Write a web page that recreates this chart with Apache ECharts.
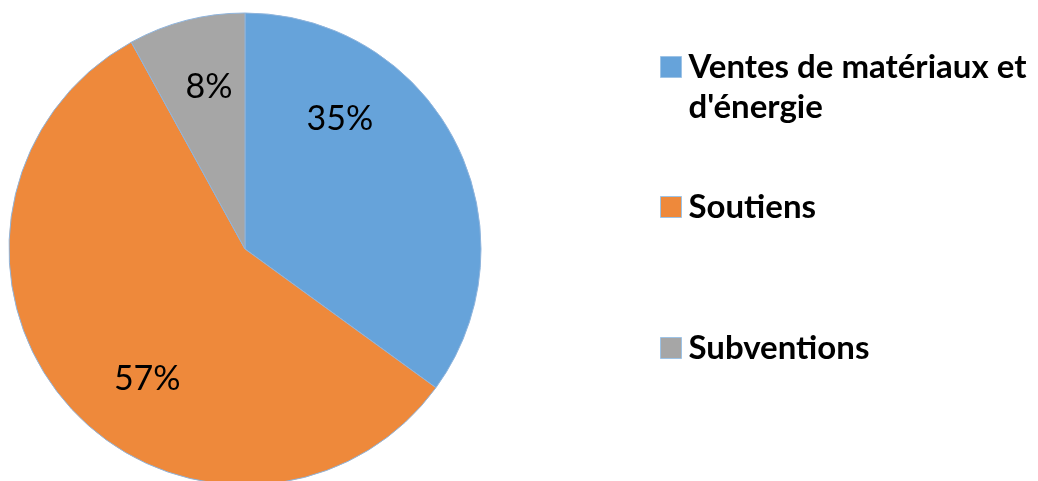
<!DOCTYPE html>
<html>
<head>
<meta charset="utf-8">
<script src="https://cdn.jsdelivr.net/npm/echarts@6/dist/echarts.min.js"></script>
<style>
html,body{margin:0;padding:0;background:#fff;}
#c{width:1038px;height:481px;}
</style>
</head>
<body>
<div id="c"></div>
<script>
var categories = ["Ventes de matériaux et d'énergie", "Soutiens", "Subventions"];
var legendLabels = ["\nVentes de matériaux et\nd'énergie", "Soutiens", "Subventions"];
var values = [35, 57, 8];
var colors = ['#66A3DA', '#EE893B', '#A6A6A6'];
var labelOffsets = [[-13, -75], [-7, 50], [-6, -45]];
var legendTops = [7, 187, 328];

var chart = echarts.init(document.getElementById('c'));
var legendFont = { fontFamily: 'Lato', fontWeight: 'bold', fontSize: 33, color: '#000' };

var legends = categories.map(function (name, i) {
  return {
    left: 660,
    top: legendTops[i],
    itemWidth: 21,
    itemHeight: 21,
    itemGap: 0,
    icon: 'rect',
    selectedMode: false,
    padding: 0,
    formatter: function () { return legendLabels[i]; },
    textStyle: Object.assign({ lineHeight: 40, padding: [0, 0, 0, 2] }, legendFont),
    itemStyle: { borderColor: '#9dc3e6', borderWidth: 1 },
    data: [name]
  };
});

chart.setOption({
  animation: false,
  color: colors,
  legend: legends,
  series: [{
    type: 'pie',
    center: [245, 249],
    radius: 236,
    startAngle: 90,
    clockwise: true,
    avoidLabelOverlap: false,
    itemStyle: { borderColor: '#8fb4dc', borderWidth: 1 },
    label: {
      show: true,
      position: 'inside',
      formatter: '{d}%',
      fontFamily: 'Lato',
      fontSize: 34,
      fontWeight: 'normal',
      color: '#000'
    },
    labelLine: { show: false },
    emphasis: { disabled: true },
    data: categories.map(function (n, i) {
      return { name: n, value: values[i], label: { offset: labelOffsets[i] } };
    })
  }]
});
</script>
</body>
</html>
